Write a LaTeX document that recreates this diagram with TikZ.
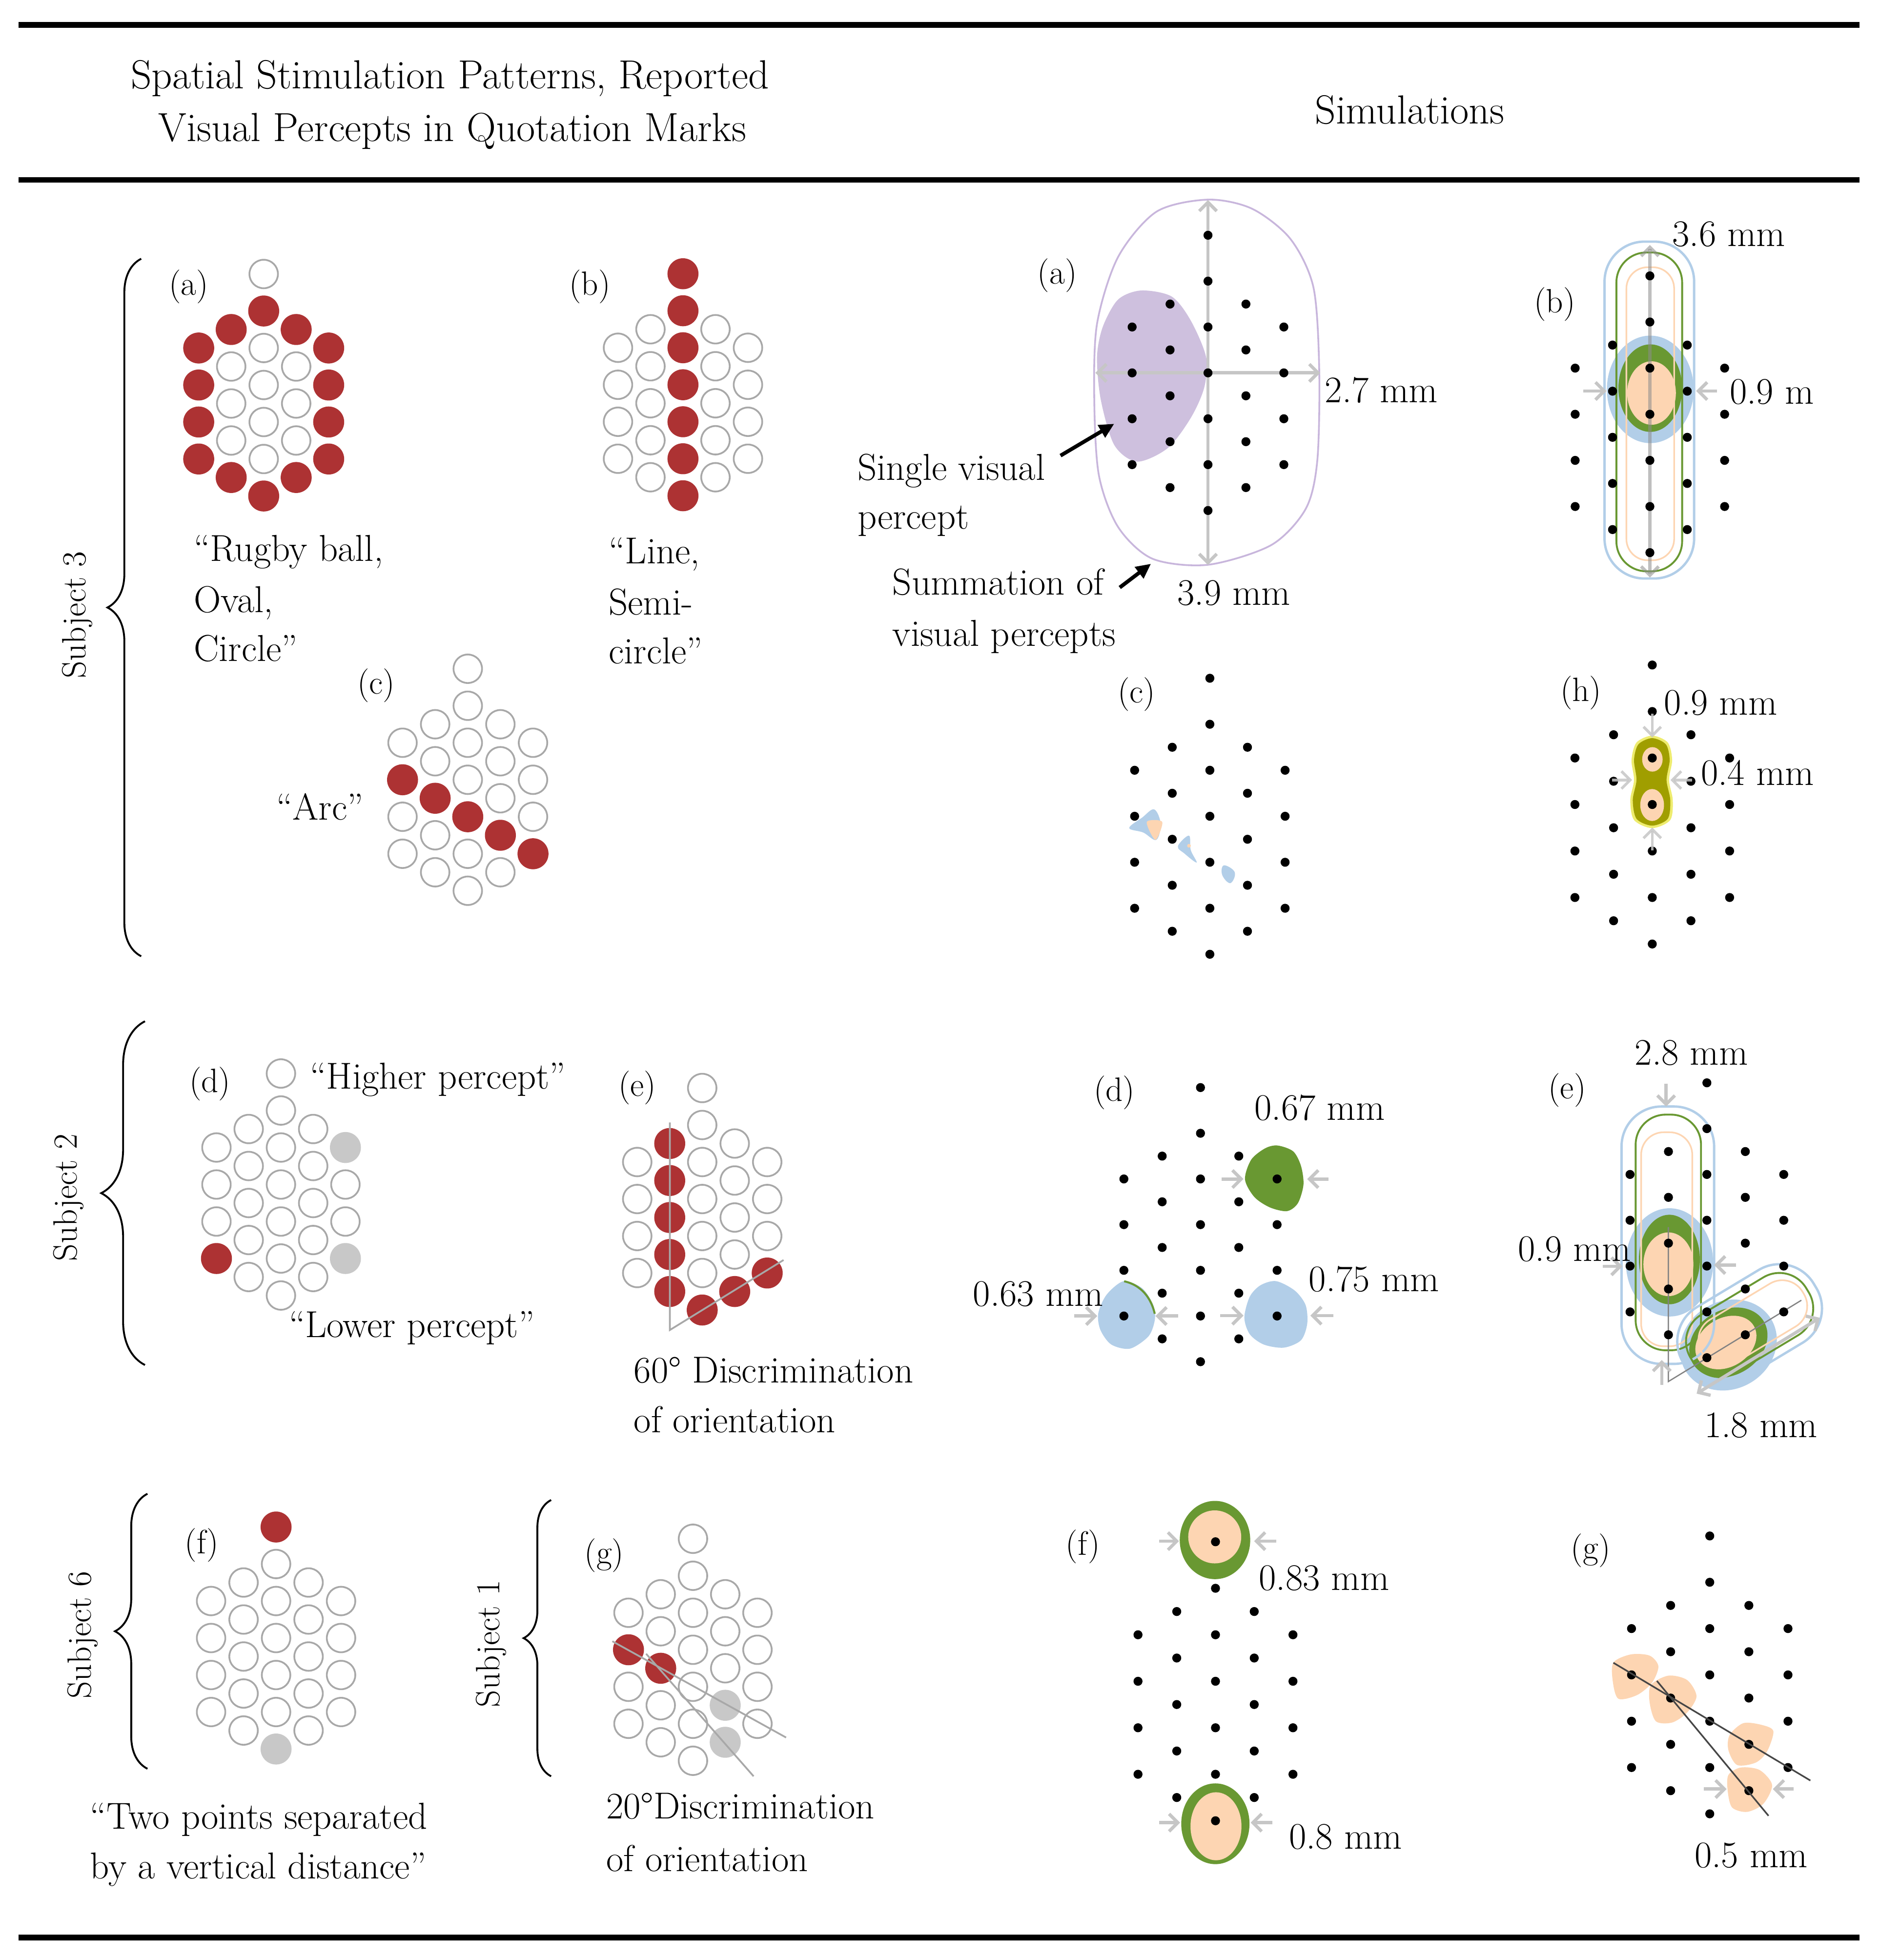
\documentclass[tikz,border=0pt]{standalone}
\usepackage{fontspec}
\usetikzlibrary{arrows.meta,decorations.pathreplacing,calc}
\definecolor{redc}{RGB}{173,50,51}
\definecolor{opengray}{RGB}{168,168,168}
\definecolor{fillgray}{RGB}{200,200,200}
\definecolor{arrgray}{RGB}{198,198,198}
\definecolor{lav}{RGB}{206,192,222}
\definecolor{lavline}{RGB}{200,182,220}
\definecolor{lblue}{RGB}{178,206,232}
\definecolor{lgreen}{RGB}{105,152,50}
\definecolor{peach}{RGB}{253,213,178}
\definecolor{olivec}{RGB}{160,158,0}
\definecolor{yel}{RGB}{238,236,110}
\definecolor{linegray}{RGB}{130,130,130}
\definecolor{darkline}{RGB}{70,70,70}
\def\gridlist{0/-3,0/-2,0/-1,0/0,0/1,0/2,0/3,-1/-1.5,-1/-0.5,-1/0.5,-1/1.5,-1/2.5,1/-1.5,1/-0.5,1/0.5,1/1.5,1/2.5,-2/-1,-2/0,-2/1,-2/2,2/-1,2/0,2/1,2/2}
\newcommand\opengrid[3]{\foreach \cc/\oo in \gridlist {\draw[opencirc] ({#1+\cc*#3},{#2+\oo*29.6}) circle[radius=11.4pt];}}
\newcommand\elecfill[5]{\foreach \cc/\oo in {#5} {\fill[#4] ({#1+\cc*#3},{#2+\oo*29.6}) circle[radius=12.4pt];}}
\newcommand\simdots[4]{\foreach \cc/\oo in \gridlist {\fill[black] ({#1+\cc*#3},{#2+\oo*#4}) circle[radius=3.6pt];}}
\tikzset{
  opencirc/.style={draw=opengray, line width=1.4pt, fill=white},
  txt/.style={font=\fontsize{30}{36}\selectfont, inner sep=0pt},
  lab/.style={font=\fontsize{27}{32}\selectfont, inner sep=0pt},
  hdr/.style={font=\fontsize{32.5}{38}\selectfont, inner sep=0pt},
  garr/.style={draw=arrgray, line width=2.6pt, -{Straight Barb[length=7pt,width=14pt]}},
  gdarr/.style={draw=arrgray, line width=2.6pt, {Straight Barb[length=7pt,width=14pt]}-{Straight Barb[length=7pt,width=14pt]}},
  barr/.style={draw=black, line width=3pt, -{Triangle[length=12pt,width=11pt]}},
  rulestyle/.style={line width=4.5pt, black},
  bracestyle/.style={decorate, decoration={brace, amplitude=#1}, line width=1.5pt},
  outblue/.style={draw=lblue, line width=1.9pt},
  outgreen/.style={draw=lgreen, line width=1.5pt},
  outpeach/.style={draw=peach, line width=1.3pt},
}
\begin{document}
\begin{tikzpicture}[x=1pt,y=-1pt]
\useasboundingbox (0,0) rectangle (1504,1568);
\fill[white] (0,0) rectangle (1504,1568);
% rules
\draw[rulestyle] (15,20) -- (1488,20);
\draw[rulestyle] (15,144) -- (1488,144);
\draw[rulestyle] (15,1550) -- (1488,1550);
% header
\node[hdr, anchor=base] (h1) at (360,71) {Spatial Stimulation Patterns, Reported};
\node[hdr, anchor=base] (h2) at (362,113) {Visual Percepts in Quotation Marks};
\node[hdr, anchor=base] (h3) at (1128,99) {Simulations};
% braces and subjects
\draw[bracestyle=27pt] (113,765) -- (113,207);
\draw[bracestyle=35pt] (116,1092) -- (116,817);
\draw[bracestyle=26pt] (118,1415) -- (118,1195);
\draw[bracestyle=22pt] (441,1421) -- (441,1200);
\node[lab, rotate=90] (s3) at (62,492) {Subject 3};
\node[lab, rotate=90] (s2) at (55,958) {Subject 2};
\node[lab, rotate=90] (s6) at (66,1308) {Subject 6};
\node[lab, rotate=90] (s1) at (393,1315) {Subject 1};
% ---------- left patterns ----------
% (a)
\opengrid{211}{308}{26}
\elecfill{211}{308}{26}{redc}{0/-2,0/3,-1/-1.5,-1/2.5,1/-1.5,1/2.5,-2/-1,-2/0,-2/1,-2/2,2/-1,2/0,2/1,2/2}
\node[lab, anchor=base] (la) at (151,236) {(a)};
\node[txt, anchor=base west] (ta1) at (155,449) {``Rugby ball,};
\node[txt, anchor=base west] (ta2) at (155,490) {Oval,};
\node[txt, anchor=base west] (ta3) at (155,529) {Circle''};
% (b)
\opengrid{546.5}{307.8}{26}
\elecfill{546.5}{307.8}{26}{redc}{0/-3,0/-2,0/-1,0/0,0/1,0/2,0/3}
\node[lab, anchor=base] (lb) at (472,236) {(b)};
\node[txt, anchor=base west] (tb1) at (487,451) {``Line,};
\node[txt, anchor=base west] (tb2) at (487,492) {Semi-};
\node[txt, anchor=base west] (tb3) at (487,531) {circle''};
% (c)
\opengrid{374.3}{623.8}{26.1}
\elecfill{374.3}{623.8}{26.1}{redc}{-2/0,-1/0.5,0/1,1/1.5,2/2}
\node[lab, anchor=base] (lc) at (301,555) {(c)};
\node[txt, anchor=base] (tc) at (256,656) {``Arc''};
% (d)
\opengrid{224.8}{947.6}{25.8}
\elecfill{224.8}{947.6}{25.8}{redc}{-2/2}
\elecfill{224.8}{947.6}{25.8}{fillgray}{2/-1,2/2}
\node[lab, anchor=base] (ld) at (168,874) {(d)};
\node[txt, anchor=base west] (td1) at (248,871) {``Higher percept''};
\node[txt, anchor=base west] (td2) at (231,1070) {``Lower percept''};
% (e)
\opengrid{561.9}{959.2}{26}
\elecfill{561.9}{959.2}{26}{redc}{-1/-1.5,-1/-0.5,-1/0.5,-1/1.5,-1/2.5,0/3,1/2.5,2/2}
\draw[opengray, line width=1.4pt] (536,898) -- (536,1064) -- (627,1008);
\node[lab, anchor=base] (le) at (510,877) {(e)};
\node[txt, anchor=base west] (te1) at (507,1106) {60° Discrimination};
\node[txt, anchor=base west] (te2) at (507,1146) {of orientation};
% (f)
\opengrid{220.9}{1310.4}{26}
\elecfill{220.9}{1310.4}{26}{redc}{0/-3}
\elecfill{220.9}{1310.4}{26}{fillgray}{0/3}
\node[lab, anchor=base] (lf) at (161.5,1243) {(f)};
\node[txt, anchor=base west] (tf1) at (72,1463) {``Two points separated};
\node[txt, anchor=base west] (tf2) at (72,1503) {by a vertical distance''};
% (g)
\opengrid{554.5}{1319.8}{25.8}
\elecfill{554.5}{1319.8}{25.8}{redc}{-2/0,-1/0.5}
\elecfill{554.5}{1319.8}{25.8}{fillgray}{1/1.5,1/2.5}
\draw[opengray, line width=1.4pt] (490,1313) -- (629,1390);
\draw[opengray, line width=1.4pt] (517,1323) -- (603,1421);
\node[lab, anchor=base] (lg) at (483.5,1251) {(g)};
\node[txt, anchor=base west] (tg1) at (485,1455) {20°Discrimination};
\node[txt, anchor=base west] (tg2) at (485,1497) {of orientation};
% ---------- simulations ----------
% (a)
\draw[lavline, line width=1.4pt] plot[smooth cycle] coordinates {(966.6,159.7) (1001.9,167) (1032.6,191.2) (1051,230) (1055.6,295.4) (1054.1,368.1) (1044.9,406.9) (1017.3,436) (966.7,451.8) (922.2,447) (894.6,421.5) (879.3,380.2) (875.6,319.7) (877.8,259.1) (894.6,205.7) (925.3,169.4)};
\fill[lav] plot[smooth cycle] coordinates {(913,232.4) (937.5,237.2) (952.9,256.6) (965.1,285.7) (963.6,310) (952.9,334.2) (934.5,358.4) (909.9,369.3) (891.6,356) (880.8,319.7) (877.8,285.7) (882.4,261.5) (894.6,239.7)};
\draw[gdarr] (966.6,160) -- (966.6,452);
\draw[gdarr] (876.5,298.3) -- (1056.5,298.3);
\simdots{966.6}{298.3}{30.35}{36.7}
\coordinate (sv1) at (848.6,364.5);
\coordinate (sv2) at (891.6,339);
\draw[barr] (sv1) -- (sv2);
\coordinate (sm1) at (896,470);
\coordinate (sm2) at (921,451);
\draw[barr] (sm1) -- (sm2);
\node[lab, anchor=base] (sa) at (846,227) {(a)};
\node[txt, anchor=base west] (sa1) at (1060,322) {2.7 mm};
\node[txt, anchor=base west] (sa2) at (686,384) {Single visual};
\node[txt, anchor=base west] (sa3) at (686,423) {percept};
\node[txt, anchor=base west] (sa4) at (714,476) {Summation of};
\node[txt, anchor=base west] (sa5) at (714,517) {visual percepts};
\node[txt, anchor=base west] (sa6) at (942,484) {3.9 mm};
% (b)
\fill[lblue] (1320.5,311.5) ellipse[x radius=34.7pt, y radius=43pt];
\fill[lgreen] (1320.5,310.5) ellipse[x radius=25.5pt, y radius=35pt];
\fill[peach] (1321.5,314.4) ellipse[x radius=19.5pt, y radius=25.4pt];
\draw[outblue, rounded corners=32pt] (1283.9,193.3) rectangle (1355.6,462.8);
\draw[outgreen, rounded corners=24pt] (1293.4,202) rectangle (1346,457);
\draw[outpeach, rounded corners=17pt] (1301.4,213.8) rectangle (1339.6,448.2);
\draw[gdarr, draw=black!45, opacity=0.55] (1320.2,196) -- (1320.2,462);
\draw[garr] (1267,312.8) -- (1285.5,312.8);
\draw[garr] (1373.9,312.8) -- (1357.2,312.8);
\simdots{1320.2}{331.4}{29.9}{36.9}
\node[txt, anchor=base west] (sb1) at (1338,197) {3.6 mm};
\node[lab, anchor=base] (sb) at (1244,250) {(b)};
\node[txt, anchor=base west] (sb2) at (1384,323) {0.9 m};
% (c)
\fill[lblue] plot[smooth cycle, tension=0.6] coordinates {(903.6,662.4) (914,654) (923.5,647.5) (928.7,659) (925.2,671.9) (914.8,666)};
\fill[peach] plot[smooth cycle, tension=0.5] coordinates {(917.6,657.5) (930,657.5) (924.5,671.9)};
\fill[lblue] plot[smooth cycle, tension=0.6] coordinates {(951.4,668.5) (952.8,680) (957.5,690) (948,683) (942.5,677)};
\fill[peach] (951.4,676.6) circle[radius=1.5pt];
\fill[lblue] plot[smooth cycle, tension=0.7] coordinates {(979.3,692.3) (988,697.8) (984.5,706.5) (978,700)};
\simdots{968.1}{653}{30.1}{36.8}
\node[lab, anchor=base] (sc) at (909.5,562) {(c)};
% (h)
\simdots{1322.1}{643.6}{30.95}{37.2}
\fill[yel] plot[smooth cycle] coordinates {(1322,588.5) (1334.5,594) (1338,608) (1335.5,624) (1338.5,640) (1336.5,656) (1322,662.5) (1307.5,656) (1304.5,640) (1307.5,624) (1305.5,608) (1309.5,594)};
\fill[olivec] plot[smooth cycle] coordinates {(1322,590.5) (1333,595.5) (1336,608) (1333.5,624) (1336.5,640) (1334.5,655) (1322,660.5) (1309.5,655) (1306.5,640) (1309.5,624) (1307.5,608) (1311,595.5)};
\fill[peach] (1322.2,607.5) ellipse[x radius=8.2pt, y radius=9.8pt];
\fill[peach] (1322,644) ellipse[x radius=9.5pt, y radius=12.8pt];
\fill[black] (1322.1,606.4) circle[radius=3.6pt];
\fill[black] (1322.1,643.6) circle[radius=3.6pt];
\draw[garr, line width=2.2pt, opacity=0.85] (1322.1,571) -- (1322.1,590);
\draw[garr, line width=2.2pt, opacity=0.85] (1322.1,680.5) -- (1322.1,662);
\draw[garr, line width=2.2pt, opacity=0.85] (1290,624) -- (1306,624);
\draw[garr, line width=2.2pt, opacity=0.85] (1354,624) -- (1336.7,624);
\node[lab, anchor=base] (sh) at (1265,561) {(h)};
\node[txt, anchor=base west] (sh1) at (1331.5,572) {0.9 mm};
\node[txt, anchor=base west] (sh2) at (1361,628) {0.4 mm};
% (d)
\fill[lgreen] plot[smooth cycle] coordinates {(1022.3,916.4) (1034.8,921.1) (1041,932.7) (1043,947.7) (1038.5,962.6) (1029.8,968.9) (1016.1,965.9) (1003.7,957.6) (996.2,943.5) (1001.2,927.7) (1012.4,918.6)};
\fill[lblue] plot[smooth cycle] coordinates {(899.2,1024.9) (914.1,1030.7) (922.8,1044) (924.1,1055.6) (919.1,1068.9) (904.2,1078.9) (889.2,1075.6) (880.5,1063.9) (878.8,1050.7) (885.5,1035.7)};
\draw[lgreen, line width=1.6pt] (899.5,1025) .. controls (913,1028) and (921,1038) .. (924,1051);
\fill[lblue] plot[smooth cycle] coordinates {(1021.1,1024.9) (1036,1032.4) (1044.7,1044) (1046,1059) (1041,1072.2) (1027.3,1078.1) (1011.2,1075.6) (1000,1067.3) (995.7,1054) (1000,1037.4) (1008.6,1028.2)};
\draw[garr] (977.5,943.2) -- (995,943.2);
\draw[garr] (1062.9,943.2) -- (1046,943.2);
\draw[garr] (859.4,1052.8) -- (878,1052.8);
\draw[garr] (942.7,1052.8) -- (924.6,1052.8);
\draw[garr] (976.3,1052.5) -- (995,1052.5);
\draw[garr] (1067.1,1052.5) -- (1048.5,1052.5);
\simdots{960.6}{979.7}{30.65}{36.55}
\node[lab, anchor=base] (sd) at (891.7,881) {(d)};
\node[txt, anchor=base west] (sd1) at (1003.7,896) {0.67 mm};
\node[txt, anchor=base west] (sd2) at (778.5,1045) {0.63 mm};
\node[txt, anchor=base west] (sd3) at (1047.2,1033) {0.75 mm};
% (e)
\fill[lblue] (1335.9,1009.9) ellipse[x radius=34.9pt, y radius=43.3pt];
\fill[lgreen] (1335.8,1007.6) ellipse[x radius=24.4pt, y radius=35.8pt];
\fill[peach] (1335,1011.4) ellipse[x radius=20pt, y radius=25.5pt];
\fill[lblue, rotate around={31:(1383,1076)}] (1383,1076) ellipse[x radius=40pt, y radius=35pt];
\fill[lgreen, rotate around={31:(1383,1074)}] (1383,1074) ellipse[x radius=33pt, y radius=26pt];
\fill[peach, rotate around={31:(1381,1074)}] (1381,1074) ellipse[x radius=26pt, y radius=19.5pt];
\draw[outblue, rounded corners=32pt] (1297.5,885.2) rectangle (1371.6,1091.1);
\draw[outgreen, rounded corners=24pt] (1308.8,891.7) rectangle (1361.1,1080.2);
\draw[outpeach, rounded corners=18pt] (1313.2,905.8) rectangle (1354.1,1077);
\begin{scope}[shift={(1400,1060)}, rotate=31]
\draw[outblue, rounded corners=32pt] (-61,-34) rectangle (61,34);
\draw[outgreen, rounded corners=25pt] (-54,-27) rectangle (54,27);
\draw[outpeach, rounded corners=19pt] (-44,-20) rectangle (50,20);
\end{scope}
\draw[linegray, line width=1pt] (1335,981.6) -- (1335,1105.2) -- (1441.4,1040.2);
\draw[garr] (1333.2,866.8) -- (1333.2,885.2);
\draw[garr] (1329.7,1108) -- (1329.7,1088);
\draw[garr] (1282.6,1013) -- (1298.3,1013);
\draw[garr] (1389,1012) -- (1371.6,1012);
\draw[gdarr] (1357.6,1114.9) -- (1456.2,1054.2);
\simdots{1365.8}{976.2}{30.75}{36.65}
\node[txt, anchor=base west] (se1) at (1308,852) {2.8 mm};
\node[lab, anchor=base] (se) at (1254,879) {(e)};
\node[txt, anchor=base west] (se2) at (1214.6,1009) {0.9 mm};
\node[txt, anchor=base west] (se3) at (1363.7,1150) {1.8 mm};
% (f)
\fill[lgreen] (972.2,1232) ellipse[x radius=28.2pt, y radius=31.3pt];
\fill[peach] (972,1229.5) ellipse[x radius=21.2pt, y radius=21.2pt];
\fill[lgreen] (972.5,1459) ellipse[x radius=27.3pt, y radius=32.3pt];
\fill[peach] (973,1461) ellipse[x radius=20.4pt, y radius=27.2pt];
\draw[garr] (927.6,1232.9) -- (943.4,1232.9);
\draw[garr] (1021.1,1232.9) -- (1003.5,1232.9);
\draw[garr] (927.6,1458.1) -- (944.3,1458.1);
\draw[garr] (1018.3,1458.1) -- (1000.7,1458.1);
\simdots{972.6}{1345}{31}{37.2}
\node[lab, anchor=base] (sf) at (866.5,1244) {(f)};
\node[txt, anchor=base west] (sf1) at (1007.2,1272) {0.83 mm};
\node[txt, anchor=base west] (sf2) at (1031.3,1479) {0.8 mm};
% (g)
\fill[peach] plot[smooth cycle] coordinates {(1291,1330) (1305,1323.5) (1320,1324.5) (1327,1333) (1322,1346) (1310,1356) (1295,1359) (1290.5,1345)};
\fill[peach] plot[smooth cycle] coordinates {(1321,1348) (1335,1340.5) (1350,1344) (1357.5,1357) (1350,1370) (1338,1378) (1325,1377) (1320,1362)};
\fill[peach] plot[smooth cycle] coordinates {(1384,1388) (1395,1378.5) (1410,1380) (1419,1385) (1414,1401) (1405,1410) (1390,1412) (1383,1400)};
\fill[peach] plot[smooth cycle] coordinates {(1383,1420) (1393,1414) (1408,1416) (1418,1428) (1411,1443) (1398,1449.5) (1386,1446) (1382.5,1433)};
\draw[garr] (1363.5,1431.2) -- (1381.6,1431.2);
\draw[garr] (1435.3,1431.2) -- (1418.6,1431.2);
\simdots{1368.1}{1339.9}{31.3}{37.05}
\draw[darkline, line width=1.3pt] (1291,1330.2) -- (1448.6,1424.4);
\draw[darkline, line width=1.3pt] (1325.8,1344.7) -- (1415.1,1452.6);
\node[lab, anchor=base] (sg) at (1272.8,1247) {(g)};
\node[txt, anchor=base west] (sg1) at (1355.8,1494) {0.5 mm};
\end{tikzpicture}
\end{document}
